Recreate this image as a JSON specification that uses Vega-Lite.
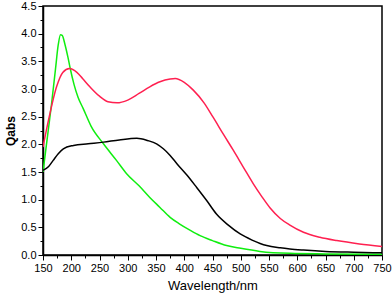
{
  "$schema": "https://vega.github.io/schema/vega-lite/v6.json",
  "autosize": "none",
  "width": 339,
  "height": 249,
  "padding": {"left": 43, "top": 6, "right": 10, "bottom": 40},
  "config": {
    "view": {"stroke": "black", "strokeWidth": 1.5},
    "font": "Liberation Sans",
    "axis": {"grid": false, "domainColor": "black", "domainWidth": 1.5, "tickColor": "black", "tickWidth": 1, "labelColor": "black", "titleColor": "black", "labelFont": "Liberation Sans", "titleFont": "Liberation Sans", "labelFontSize": 11}
  },
  "data": {"values": [
    {"s": "g", "w": 150, "q": 1.5}, {"s": "g", "w": 158, "q": 2.15}, {"s": "g", "w": 165, "q": 2.72}, {"s": "g", "w": 172, "q": 3.35}, {"s": "g", "w": 177, "q": 3.8}, {"s": "g", "w": 181, "q": 3.98}, {"s": "g", "w": 184, "q": 3.97}, {"s": "g", "w": 189, "q": 3.8}, {"s": "g", "w": 194, "q": 3.58}, {"s": "g", "w": 198, "q": 3.38}, {"s": "g", "w": 205, "q": 3.08}, {"s": "g", "w": 212, "q": 2.85}, {"s": "g", "w": 221, "q": 2.65}, {"s": "g", "w": 235, "q": 2.33}, {"s": "g", "w": 257, "q": 2.01}, {"s": "g", "w": 280, "q": 1.71}, {"s": "g", "w": 298, "q": 1.47}, {"s": "g", "w": 320, "q": 1.25}, {"s": "g", "w": 339, "q": 1.04}, {"s": "g", "w": 357, "q": 0.86}, {"s": "g", "w": 375, "q": 0.68}, {"s": "g", "w": 392, "q": 0.56}, {"s": "g", "w": 410, "q": 0.45}, {"s": "g", "w": 428, "q": 0.35}, {"s": "g", "w": 450, "q": 0.26}, {"s": "g", "w": 475, "q": 0.17}, {"s": "g", "w": 500, "q": 0.12}, {"s": "g", "w": 534, "q": 0.065}, {"s": "g", "w": 587, "q": 0.03}, {"s": "g", "w": 650, "q": 0.02}, {"s": "g", "w": 750, "q": 0.012},
    {"s": "r", "w": 150, "q": 1.95}, {"s": "r", "w": 160, "q": 2.45}, {"s": "r", "w": 174, "q": 3.04}, {"s": "r", "w": 185, "q": 3.3}, {"s": "r", "w": 197, "q": 3.37}, {"s": "r", "w": 210, "q": 3.3}, {"s": "r", "w": 220, "q": 3.19}, {"s": "r", "w": 233, "q": 3.04}, {"s": "r", "w": 250, "q": 2.87}, {"s": "r", "w": 265, "q": 2.77}, {"s": "r", "w": 281, "q": 2.75}, {"s": "r", "w": 300, "q": 2.8}, {"s": "r", "w": 320, "q": 2.92}, {"s": "r", "w": 339, "q": 3.04}, {"s": "r", "w": 357, "q": 3.13}, {"s": "r", "w": 375, "q": 3.18}, {"s": "r", "w": 384, "q": 3.19}, {"s": "r", "w": 400, "q": 3.12}, {"s": "r", "w": 416, "q": 2.98}, {"s": "r", "w": 435, "q": 2.75}, {"s": "r", "w": 451, "q": 2.49}, {"s": "r", "w": 470, "q": 2.17}, {"s": "r", "w": 487, "q": 1.89}, {"s": "r", "w": 505, "q": 1.58}, {"s": "r", "w": 522, "q": 1.29}, {"s": "r", "w": 537, "q": 1.06}, {"s": "r", "w": 552, "q": 0.85}, {"s": "r", "w": 570, "q": 0.66}, {"s": "r", "w": 587, "q": 0.54}, {"s": "r", "w": 611, "q": 0.41}, {"s": "r", "w": 640, "q": 0.32}, {"s": "r", "w": 670, "q": 0.26}, {"s": "r", "w": 710, "q": 0.2}, {"s": "r", "w": 750, "q": 0.155},
    {"s": "k", "w": 150, "q": 1.53}, {"s": "k", "w": 160, "q": 1.6}, {"s": "k", "w": 168, "q": 1.71}, {"s": "k", "w": 177, "q": 1.83}, {"s": "k", "w": 186, "q": 1.92}, {"s": "k", "w": 204, "q": 1.98}, {"s": "k", "w": 230, "q": 2.01}, {"s": "k", "w": 257, "q": 2.04}, {"s": "k", "w": 285, "q": 2.08}, {"s": "k", "w": 316, "q": 2.11}, {"s": "k", "w": 335, "q": 2.07}, {"s": "k", "w": 351, "q": 2.01}, {"s": "k", "w": 363, "q": 1.92}, {"s": "k", "w": 375, "q": 1.8}, {"s": "k", "w": 387, "q": 1.65}, {"s": "k", "w": 405, "q": 1.44}, {"s": "k", "w": 422, "q": 1.22}, {"s": "k", "w": 440, "q": 0.98}, {"s": "k", "w": 457, "q": 0.74}, {"s": "k", "w": 478, "q": 0.54}, {"s": "k", "w": 499, "q": 0.38}, {"s": "k", "w": 520, "q": 0.27}, {"s": "k", "w": 546, "q": 0.17}, {"s": "k", "w": 570, "q": 0.13}, {"s": "k", "w": 587, "q": 0.11}, {"s": "k", "w": 611, "q": 0.09}, {"s": "k", "w": 650, "q": 0.065}, {"s": "k", "w": 700, "q": 0.05}, {"s": "k", "w": 750, "q": 0.04}
  ]},
  "mark": {"type": "line", "interpolate": "monotone", "strokeWidth": 1.5, "clip": true},
  "encoding": {
    "x": {"field": "w", "type": "quantitative", "scale": {"domain": [150, 750], "nice": false},
      "axis": {"title": "Wavelength/nm", "titleFontSize": 13, "titleFontWeight": "normal", "titlePadding": 6,
        "values": [150,175,200,225,250,275,300,325,350,375,400,425,450,475,500,525,550,575,600,625,650,675,700,725,750],
        "labelExpr": "datum.value % 50 === 0 ? datum.label : ''",
        "tickSize": {"condition": {"test": "datum.value % 50 === 0", "value": 5}, "value": 3},
        "labelPadding": 2, "labelFlush": false, "labelOverlap": false}},
    "y": {"field": "q", "type": "quantitative", "scale": {"domain": [0, 4.5], "nice": false},
      "axis": {"title": "Qabs", "titleFontSize": 12, "titleFontWeight": "bold", "titlePadding": 3,
        "values": [0,0.25,0.5,0.75,1,1.25,1.5,1.75,2,2.25,2.5,2.75,3,3.25,3.5,3.75,4,4.25,4.5],
        "format": ".1f",
        "labelExpr": "round(datum.value*4) % 2 === 0 ? datum.label : ''",
        "tickSize": {"condition": {"test": "round(datum.value*4) % 2 === 0", "value": 5}, "value": 3},
        "labelPadding": 2, "labelOverlap": false}},
    "color": {"field": "s", "type": "nominal", "scale": {"domain": ["g", "r", "k"], "range": ["#10ee10", "#ff2050", "#000000"]}, "legend": null}
  }
}
